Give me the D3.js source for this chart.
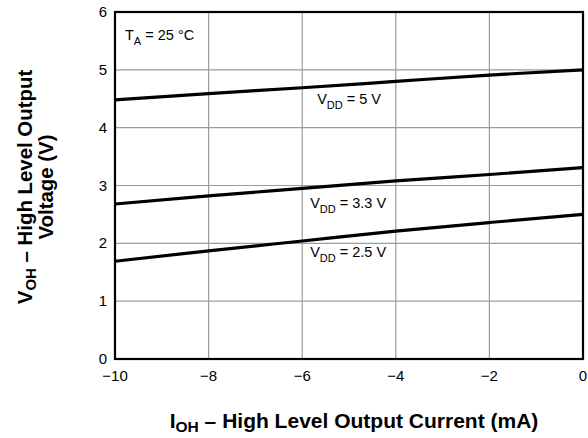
<!DOCTYPE html>
<html>
<head>
<meta charset="utf-8">
<script src="https://cdn.jsdelivr.net/npm/d3@7"></script>
<style>
  body { margin: 0; background: #fff; }
  svg { display: block; font-family: "Liberation Sans", Arial, sans-serif; }
</style>
</head>
<body>
<svg id="chart" width="588" height="438"></svg>
<script>
// output current (mA)
const currents = [-10, -8, -6, -4, -2, 0];
// VOH for each supply
const vdd5 = [4.48, 4.59, 4.69, 4.80, 4.91, 5.00];
const vdd33 = [2.68, 2.82, 2.95, 3.08, 3.19, 3.31];
const vdd25 = [1.69, 1.87, 2.04, 2.21, 2.36, 2.50];
const seriesNames = ["5 V", "3.3 V", "2.5 V"];
const xTicks = [-10, -8, -6, -4, -2, 0];
const yTicks = [0, 1, 2, 3, 4, 5, 6];

let svg = d3.select("#chart");
let margin = { left: 115, right: 5, top: 12, bottom: 79 };
let width = 588 - margin.left - margin.right,
    height = 438 - margin.top - margin.bottom;

let x = d3.scaleLinear().domain([-10, 0]).range([0, width]);
let y = d3.scaleLinear().domain([0, 6]).range([height, 0]);

let g = svg.append("g").attr("transform", "translate(" + margin.left + "," + margin.top + ")");

// grid
g.selectAll("line.vgrid")
    .data(xTicks.slice(1, -1))
  .enter().append("line")
    .attr("x1", d => x(d)).attr("x2", d => x(d))
    .attr("y1", 0).attr("y2", height)
    .attr("stroke", "#9c9c9c").attr("stroke-width", 1.2);

g.selectAll("line.hgrid")
    .data(yTicks.slice(1, -1))
  .enter().append("line")
    .attr("x1", 0).attr("x2", width)
    .attr("y1", d => y(d)).attr("y2", d => y(d))
    .attr("stroke", "#9c9c9c").attr("stroke-width", 1.2);

// tick labels
g.selectAll("text.xt")
    .data(xTicks)
  .enter().append("text")
    .attr("x", d => x(d))
    .attr("y", height + 22)
    .attr("text-anchor", "middle")
    .attr("font-size", 15)
    .text(d => d < 0 ? "\u2212" + Math.abs(d) : d);

g.selectAll("text.yt")
    .data(yTicks)
  .enter().append("text")
    .attr("x", -8)
    .attr("y", d => y(d) + 5)
    .attr("text-anchor", "end")
    .attr("font-size", 15)
    .text(d => d);

// curves
let line = d3.line()
    .x((d, i) => x(currents[i]))
    .y(d => y(d))
    .curve(d3.curveMonotoneX);

let allSeries = [vdd5, vdd33, vdd25];
g.selectAll("path.curve")
    .data(allSeries)
  .enter().append("path")
    .attr("d", line)
    .attr("fill", "none")
    .attr("stroke", "#000")
    .attr("stroke-width", 3.2);

// curve labels, placed just under each curve near -6 mA
function vddLabel(name, xv, yv) {
    let t = g.append("text")
        .attr("x", x(xv))
        .attr("y", y(yv))
        .attr("font-size", 14.5);
    t.append("tspan").text("V");
    t.append("tspan").attr("font-size", 11).attr("dy", 5).text("DD");
    t.append("tspan").attr("dy", -5).text(" = " + name);
    let bb = t.node().getBBox();
    g.insert("rect", function () { return t.node(); })
        .attr("x", bb.x - 1).attr("y", bb.y + 3)
        .attr("width", bb.width + 2).attr("height", bb.height - 5)
        .attr("fill", "#fff");
}
vddLabel(seriesNames[0], -5.68, 4.41);
vddLabel(seriesNames[1], -5.83, 2.61);
vddLabel(seriesNames[2], -5.83, 1.76);

// TA label
let ta = g.append("text").attr("x", 10).attr("y", 28).attr("font-size", 14.5);
ta.append("tspan").text("T");
ta.append("tspan").attr("font-size", 11).attr("dy", 5).text("A");
ta.append("tspan").attr("dy", -5).text(" = 25 \u00b0C");

// frame
g.append("rect")
    .attr("width", width).attr("height", height)
    .attr("fill", "none")
    .attr("stroke", "#000").attr("stroke-width", 2.2);

// axis titles
let xt = svg.append("text")
    .attr("x", 354)
    .attr("y", 428)
    .attr("text-anchor", "middle")
    .attr("font-size", 21)
    .attr("font-weight", "bold");
xt.append("tspan").text("I");
xt.append("tspan").attr("font-size", 15.5).attr("dy", 4).text("OH");
xt.append("tspan").attr("dy", -4).text(" \u2013 High Level Output Current (mA)");

let yt = svg.append("g").attr("transform", "translate(0,187) rotate(-90)");
let yt1 = yt.append("text")
    .attr("x", 0).attr("y", 32)
    .attr("text-anchor", "middle")
    .attr("font-size", 20.4)
    .attr("font-weight", "bold");
yt1.append("tspan").text("V");
yt1.append("tspan").attr("font-size", 15).attr("dy", 4).text("OH");
yt1.append("tspan").attr("dy", -4).text(" \u2013 High Level Output");
yt.append("text")
    .attr("x", 0).attr("y", 53)
    .attr("text-anchor", "middle")
    .attr("font-size", 20.4)
    .attr("font-weight", "bold")
    .text("Voltage (V)");
</script>
</body>
</html>
